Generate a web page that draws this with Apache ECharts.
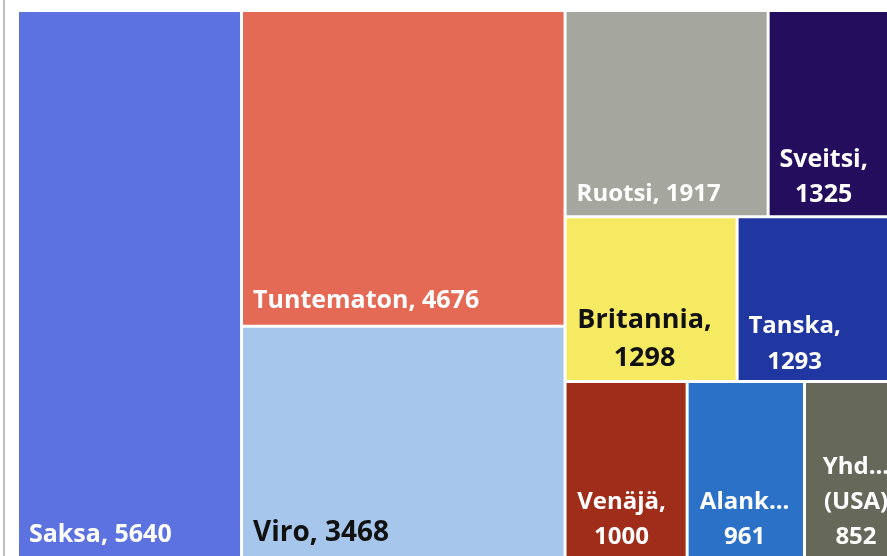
<!DOCTYPE html>
<html>
<head>
<meta charset="utf-8">
<title>Treemap</title>
<script src="https://cdn.jsdelivr.net/npm/echarts@6/dist/echarts.min.js"></script>
<style>
  html, body { margin: 0; padding: 0; background: #fff; overflow: hidden; }
  #chart { width: 887px; height: 556px; }
</style>
</head>
<body>
<div id="chart"></div>
<script>
const names = ['Saksa', 'Tuntematon', 'Viro', 'Ruotsi', 'Sveitsi', 'Britannia', 'Tanska', 'Venäjä', 'Alankomaat', 'Yhdysvallat (USA)'];
const labelNames = ['Saksa,', 'Tuntematon,', 'Viro,', 'Ruotsi,', 'Sveitsi,', 'Britannia,', 'Tanska,', 'Venäjä,', 'Alank...', 'Yhd...\n(USA)'];
const values = [5640, 4676, 3468, 1917, 1325, 1298, 1293, 1000, 961, 852];
const colors = ['#5B72E0', '#E46A55', '#A6C6EC', '#A5A69D', '#250D5E', '#F6EA63', '#2036A0', '#A02D1A', '#2B71C8', '#66685A'];

// label look for each box: single line at bottom left, or wrapped and centred
const labelLook = {
  'Saksa': { size: 25, pb: 12 },
  'Tuntematon': { size: 25, pb: 11 },
  'Viro': { size: 28, pb: 12, color: '#111' },
  'Ruotsi': { size: 24, pb: 9 },
  'Sveitsi': { size: 25, pb: 3, wrap: 54, lh: 35 },
  'Britannia': { size: 27, pb: 3, wrap: 78, lh: 38, color: '#111' },
  'Tanska': { size: 24, pb: 0, wrap: 56, lh: 36 },
  'Venäjä': { size: 24, pb: 4, wrap: 55, lh: 35 },
  'Alankomaat': { size: 24, pb: 4, wrap: 56, lh: 35 },
  'Yhdysvallat (USA)': { size: 24, pb: 4, wrap: 50, lh: 35 }
};

function leaf(i) {
  const look = labelLook[names[i]];
  const label = {
    formatter: labelNames[i] + (look.wrap ? '\n' : ' ') + values[i],
    fontFamily: 'Open Sans',
    fontWeight: 'bold',
    fontSize: look.size,
    color: look.color || '#fff'
  };
  if (look.wrap) {
    label.position = [look.wrap, '100%'];
    label.align = 'center';
    label.verticalAlign = 'bottom';
    label.lineHeight = look.lh;
    label.padding = [0, 0, look.pb, 0];
  } else {
    label.position = 'insideBottomLeft';
    label.distance = 0;
    label.lineHeight = look.size;
    label.padding = [0, 0, look.pb, 10];
  }
  return {
    name: names[i],
    value: values[i],
    itemStyle: { color: colors[i], borderWidth: 1.5, borderColor: '#fff' },
    label: label
  };
}

// nesting keeps the same columns and rows as the original
const data = [
  leaf(0),
  {
    name: 'rest',
    children: [
      { name: 'g2', children: [leaf(1), leaf(2)] },
      {
        name: 'g3',
        children: [
          {
            name: 'top',
            children: [
              { name: 'r1', children: [leaf(3), leaf(4)] },
              { name: 'r2', children: [leaf(5), leaf(6)] }
            ]
          },
          { name: 'r3', children: [leaf(7), leaf(8), leaf(9)] }
        ]
      }
    ]
  }
];

const chart = echarts.init(document.getElementById('chart'));
chart.setOption({
  animation: false,
  graphic: [
    { type: 'rect', left: 3, top: 0, shape: { width: 2, height: 556 }, style: { fill: '#C0C0C0' } }
  ],
  series: [
    {
      type: 'treemap',
      left: 17.5,
      top: 10.5,
      width: 891,
      height: 550,
      sort: false,
      squareRatio: 1,
      roam: false,
      nodeClick: false,
      breadcrumb: { show: false },
      itemStyle: { borderWidth: 0, gapWidth: 0, borderColor: '#fff' },
      emphasis: { disabled: true },
      data: data
    }
  ]
});
</script>
</body>
</html>
